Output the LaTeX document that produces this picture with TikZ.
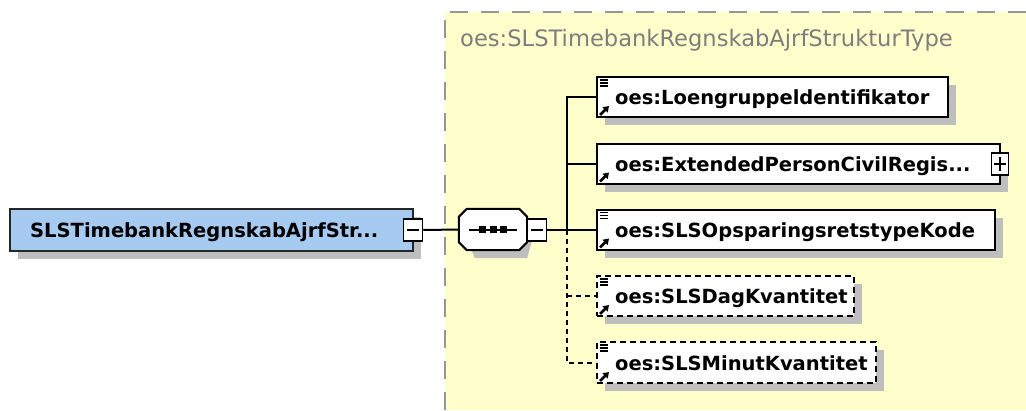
\documentclass[tikz,border=0pt]{standalone}
\usepackage{fontspec}
\setmainfont{DejaVu Sans}
\usetikzlibrary{shadows,arrows.meta,calc}
\definecolor{bgyellow}{RGB}{255,255,204}
\definecolor{elblue}{RGB}{166,202,240}
\definecolor{shadowgray}{RGB}{190,190,190}
\definecolor{framegray}{RGB}{150,150,150}
\definecolor{titlegray}{RGB}{125,125,125}
\tikzset{
  boxshadow/.style={drop shadow={shadow xshift=8pt, shadow yshift=-8pt, fill=shadowgray, opacity=1}},
  elembox/.style={draw=black, line width=2pt, fill=white, inner sep=0pt, boxshadow},
  optbox/.style={elembox, dash pattern=on 6pt off 4pt},
  rootbox/.style={draw=black!85, line width=2pt, fill=elblue, inner sep=0pt, boxshadow},
  etext/.style={anchor=base west, inner sep=0pt, font=\fontsize{19.5}{22}\selectfont\bfseries},
  togglebox/.style={draw=black, line width=1.5pt, fill=white, minimum width=19pt, minimum height=22pt, inner sep=0pt},
  conn/.style={draw=black, line width=2pt},
  dconn/.style={conn, dash pattern=on 5pt off 4pt},
}
\newcommand\docicon[1]{%
  \foreach \dy in {4,7,10}{\draw[line width=1.4pt] ($(#1.north west)+(4,\dy)$) -- ++(8,0);}}
\newcommand\linkicon[1]{%
  \draw[line width=2.6pt, -{Triangle[length=5.5pt,width=7pt]}] ($(#1.south west)+(4,-3)$) -- ++(9,-9);}
\begin{document}
\begin{tikzpicture}[x=1pt,y=-1pt]
\useasboundingbox (0,0) rectangle (1026,410);
% type area
\fill[bgyellow] (445,12) rectangle (1026,410);
\draw[framegray, line width=2pt, dash pattern=on 18pt off 13pt] (1026,12) -- (445,12) -- (445,410);
\node[anchor=base west, inner sep=0pt, text=titlegray, font=\fontsize{22.6}{26}\selectfont] (title) at (460,46) {oes:SLSTimebankRegnskabAjrfStrukturType};

% root element
\node[rootbox, minimum width=403pt, minimum height=42pt] (root) at (211.5,230) {};
\node[etext] (roottxt) at (30,237.5) {SLSTimebankRegnskabAjrfStr...};
\node[togglebox] (rootm) at (413,230) {};
\draw[line width=1.5pt] ($(rootm.center)+(-6,0)$) -- ($(rootm.center)+(6,0)$);

% sequence compositor
\node[minimum width=68pt, minimum height=41pt, inner sep=0pt] (seq) at (493,229.5) {};
\fill[shadowgray] ($(seq.north west)+(16,8)$) -- ($(seq.north east)+(0,8)$) -- ($(seq.east)+(8,0)$) -- ($(seq.south east)+(0,8)$) -- ($(seq.south west)+(16,8)$) -- ($(seq.west)+(8,8)$) -- cycle;
\draw[line width=2pt, fill=white] ($(seq.north west)+(8,0)$) -- ($(seq.north east)+(-8,0)$) -- ($(seq.north east)+(0,8)$) -- ($(seq.south east)+(0,-8)$) -- ($(seq.south east)+(-8,0)$) -- ($(seq.south west)+(8,0)$) -- ($(seq.south west)+(0,-8)$) -- ($(seq.north west)+(0,8)$) -- cycle;
\draw[line width=2pt] ($(seq.west)+(10,0)$) -- ($(seq.east)+(-10,0)$);
\foreach \dx in {-10.5,0,10.5}{\fill ($(seq.center)+(\dx-3.5,-3.5)$) rectangle ++(7,7);}
\node[togglebox] (seqm) at (537,230) {};
\draw[line width=1.5pt] ($(seqm.center)+(-6,0)$) -- ($(seqm.center)+(6,0)$);

% child elements
\node[elembox, minimum width=351pt, minimum height=40pt] (e1) at (772.5,97) {};
\node[etext] at (615,104.5) {oes:Loengruppeldentifikator};
\docicon{e1}\linkicon{e1}

\node[elembox, minimum width=403pt, minimum height=40pt] (e2) at (798.5,163.5) {};
\node[etext] at (615,171) {oes:ExtendedPersonCivilRegis...};
\linkicon{e2}
\node[togglebox, minimum width=17pt] (e2p) at (1000,164) {};
\draw[line width=1.5pt] ($(e2p.center)+(-6,0)$) -- ($(e2p.center)+(6,0)$) ($(e2p.center)+(0,-7)$) -- ($(e2p.center)+(0,7)$);

\node[elembox, minimum width=398pt, minimum height=40pt] (e3) at (796,229.5) {};
\node[etext] at (615,237) {oes:SLSOpsparingsretstypeKode};
\docicon{e3}\linkicon{e3}

\node[optbox, minimum width=257pt, minimum height=40pt] (e4) at (725.5,296) {};
\node[etext] at (615,303.5) {oes:SLSDagKvantitet};
\docicon{e4}\linkicon{e4}

\node[optbox, minimum width=279pt, minimum height=41pt] (e5) at (736.5,362.5) {};
\node[etext] at (615,370) {oes:SLSMinutKvantitet};
\docicon{e5}\linkicon{e5}

% connectors
\coordinate (tr) at (567,230);
\draw[conn] (rootm.east) -- (seq.west);
\draw[conn] (seqm.east) -- (tr);
\draw[conn] (e1.west) -- (e1.west -| tr) -- (e3.west -| tr) -- (e3.west);
\draw[conn] (e2.west) -- (e2.west -| tr);
\draw[dconn] (e3.west -| tr) |- (e5.west);
\draw[dconn] (e4.west -| tr) -- (e4.west);
\end{tikzpicture}
\end{document}
